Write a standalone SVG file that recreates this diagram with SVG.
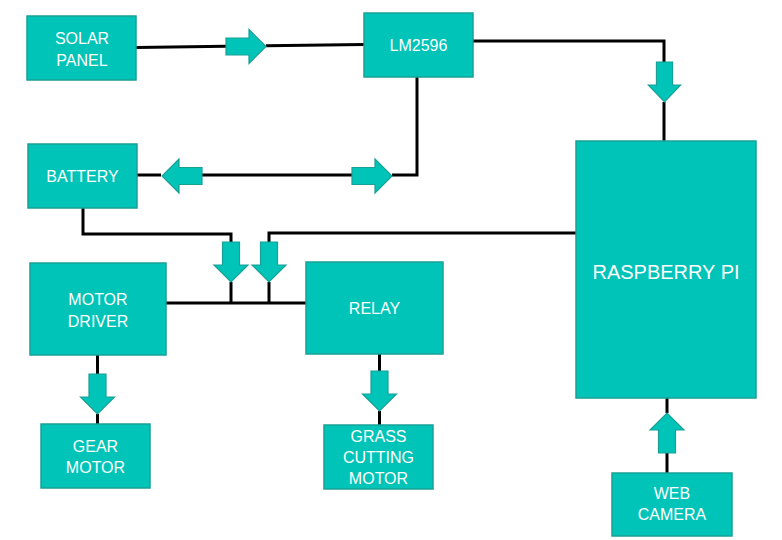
<svg xmlns="http://www.w3.org/2000/svg" xmlns:xlink="http://www.w3.org/1999/xlink" width="782" height="540" viewBox="0 0 782 540">
<style>
.box{fill:#00c4b8;stroke:#19a096;stroke-width:1.5}
.lbl{fill:#ffffff;font-family:"Liberation Sans",Arial,sans-serif;font-size:16px;text-anchor:middle}
.big{font-size:20px}
.wire{fill:none;stroke:#000000;stroke-width:3;stroke-linejoin:miter}
.arr{fill:#00c4b8;stroke:#19a096;stroke-width:1.2}
</style>
<defs>
<path id="arrow" d="M-8.5,0 H8.5 V23 H17 L0,40 L-17,23 H-8.5 Z"/>
</defs>
<rect width="782" height="540" fill="#ffffff"/>
<g id="connectors">
<path class="wire" d="M136,47.5 L226,46.3"/>
<path class="wire" d="M266,45.8 L364,44.5"/>
<path class="wire" d="M473,41 H664 V62"/>
<path class="wire" d="M664,102 V141"/>
<path class="wire" d="M417,77 V175 H392"/>
<path class="wire" d="M352,175 H202"/>
<path class="wire" d="M161,175 H137"/>
<path class="wire" d="M83,208 V234 H231 V242"/>
<path class="wire" d="M231,282 V303"/>
<path class="wire" d="M576,233 H269 V242"/>
<path class="wire" d="M269,282 V303"/>
<path class="wire" d="M166,303 H306"/>
<path class="wire" d="M97.5,355 V374"/>
<path class="wire" d="M97.5,414 V424"/>
<path class="wire" d="M379.5,354 V371"/>
<path class="wire" d="M379.5,411 V425"/>
<path class="wire" d="M667,398 V413"/>
<path class="wire" d="M667,453 V473"/>
<use class="arr" href="#arrow" xlink:href="#arrow" transform="translate(226,46.5) rotate(-90)"/>
<use class="arr" href="#arrow" xlink:href="#arrow" transform="translate(202,176) rotate(90)"/>
<use class="arr" href="#arrow" xlink:href="#arrow" transform="translate(352,176) rotate(-90)"/>
<use class="arr" href="#arrow" xlink:href="#arrow" transform="translate(231,242)"/>
<use class="arr" href="#arrow" xlink:href="#arrow" transform="translate(269,242)"/>
<use class="arr" href="#arrow" xlink:href="#arrow" transform="translate(664.5,62) scale(0.95,1)"/>
<use class="arr" href="#arrow" xlink:href="#arrow" transform="translate(97.5,374)"/>
<use class="arr" href="#arrow" xlink:href="#arrow" transform="translate(379.5,371)"/>
<use class="arr" href="#arrow" xlink:href="#arrow" transform="translate(667,453) rotate(180)"/>
</g>
<g id="solar-panel">
<rect class="box" x="27" y="16" width="109" height="64"/>
<text class="lbl" x="82" y="44">SOLAR</text>
<text class="lbl" x="82" y="66">PANEL</text>
</g>
<g id="lm2596">
<rect class="box" x="364" y="13" width="109" height="64"/>
<text class="lbl" x="418.5" y="51">LM2596</text>
</g>
<g id="battery">
<rect class="box" x="28" y="144" width="109" height="64"/>
<text class="lbl" x="82.5" y="182">BATTERY</text>
</g>
<g id="motor-driver">
<rect class="box" x="30" y="263" width="136" height="92"/>
<text class="lbl" x="98" y="305">MOTOR</text>
<text class="lbl" x="98" y="327">DRIVER</text>
</g>
<g id="relay">
<rect class="box" x="306" y="262" width="137" height="92"/>
<text class="lbl" x="374.5" y="314">RELAY</text>
</g>
<g id="gear-motor">
<rect class="box" x="41" y="424" width="109" height="64"/>
<text class="lbl" x="95.5" y="452">GEAR</text>
<text class="lbl" x="95.5" y="473">MOTOR</text>
</g>
<g id="grass-cutting-motor">
<rect class="box" x="324" y="425" width="109" height="64"/>
<text class="lbl" x="378.5" y="442">GRASS</text>
<text class="lbl" x="378.5" y="463">CUTTING</text>
<text class="lbl" x="378.5" y="484">MOTOR</text>
</g>
<g id="raspberry-pi">
<rect class="box" x="576" y="141" width="180" height="257"/>
<text class="lbl big" x="666" y="279">RASPBERRY PI</text>
</g>
<g id="web-camera">
<rect class="box" x="612" y="473" width="120" height="63"/>
<text class="lbl" x="672" y="499">WEB</text>
<text class="lbl" x="672" y="520">CAMERA</text>
</g>
</svg>
